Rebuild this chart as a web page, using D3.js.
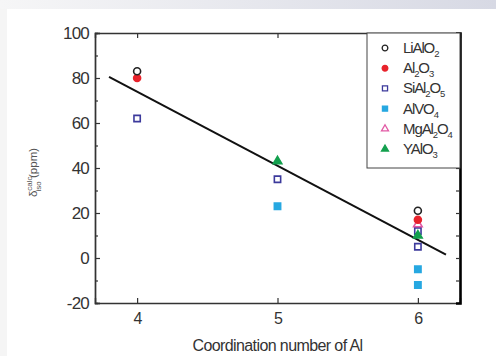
<!DOCTYPE html>
<html>
<head>
<meta charset="utf-8">
<script src="https://cdn.jsdelivr.net/npm/d3@7"></script>
<style>
  body { margin: 0; background: #fff; }
  svg { display: block; font-family: "Liberation Sans", Arial, sans-serif; }
</style>
</head>
<body>
<svg id="chart" width="496" height="356"></svg>
<script>
var width = 496,
    height = 356;

// data
var series = ["LiAlO2", "Al2O3", "SiAl2O5", "AlVO4", "MgAl2O4", "YAlO3"];
var liAlO2 = [[4, 83], [6, 21]];
var al2O3 = [[4, 80], [6, 17]];
var siAl2O5 = [[4, 62], [5, 35], [6, 12], [6, 5]];
var alVO4 = [[5, 23], [6, -5], [6, -12]];
var mgAl2O4 = [[6, 15]];
var yAlO3 = [[5, 43], [6, 10]];
var fitX = [3.8, 6.2];
var fitY = [80.5, 1.5];
var xTicks = [4, 5, 6];
var yTicks = [-20, 0, 20, 40, 60, 80, 100];

var margin = { left: 95, right: 36, top: 33, bottom: 53 };

var svg = d3.select("#chart");

// grey frame like the scanned figure
var grad = svg.append("defs").append("linearGradient").attr("id", "topband");
grad.append("stop").attr("offset", "0%").attr("stop-color", "#f6f6f7");
grad.append("stop").attr("offset", "100%").attr("stop-color", "#d7d9e4");
svg.append("rect").attr("width", width).attr("height", 9).attr("fill", "url(#topband)");
svg.append("rect").attr("y", 9).attr("width", 7).attr("height", height - 9).attr("fill", "#f5f5f5");

var x = d3.scaleLinear().domain([3.7, 6.3]).range([margin.left, width - margin.right]);
var y = d3.scaleLinear().domain([-20, 100]).range([height - margin.bottom, margin.top]);

var axisColor = "#333";
var plain = function (d) { return String(d); };

// axes, ticks inward
var gx = svg.append("g").attr("transform", "translate(0," + y(-20) + ")")
    .call(d3.axisBottom(x).tickValues(xTicks).tickSize(-5).tickPadding(10).tickFormat(plain));
var gxTop = svg.append("g").attr("transform", "translate(0," + y(100) + ")")
    .call(d3.axisTop(x).tickValues(xTicks).tickSize(-5).tickFormat(""));
var gy = svg.append("g").attr("transform", "translate(" + x(3.7) + ",0)")
    .call(d3.axisLeft(y).tickValues(yTicks).tickSize(-5).tickPadding(6).tickFormat(plain));
var gyMinor = svg.append("g").attr("transform", "translate(" + x(3.7) + ",0)")
    .call(d3.axisLeft(y).tickValues(d3.range(-10, 100, 20)).tickSize(-3).tickFormat(""));
var gyRight = svg.append("g").attr("transform", "translate(" + x(6.3) + ",0)")
    .call(d3.axisRight(y).tickValues(d3.range(-10, 100, 10)).tickSize(-4).tickFormat(""));

[gx, gxTop, gy, gyMinor, gyRight].forEach(function (g) {
    g.select(".domain").attr("stroke", axisColor).attr("stroke-width", 1.4);
    g.selectAll(".tick line").attr("stroke", axisColor).attr("stroke-width", 1.2);
    g.selectAll(".tick text").attr("fill", "#333").attr("font-size", 17)
        .attr("font-family", "Liberation Sans, Arial, sans-serif").attr("letter-spacing", -0.8);
});
gyRight.select(".domain").attr("stroke", "#000").attr("stroke-width", 2.6);
gx.selectAll(".tick text").attr("font-size", 16);

// axis titles
svg.append("text")
    .attr("x", x(5)).attr("y", 351)
    .attr("text-anchor", "middle")
    .attr("font-size", 16).attr("letter-spacing", -0.6).attr("fill", "#333")
    .text("Coordination number of Al");

var ylab = svg.append("text")
    .attr("transform", "translate(37," + y(38) + ") rotate(-90)")
    .attr("text-anchor", "middle")
    .attr("font-size", 11.5).attr("fill", "#555");
ylab.append("tspan").text("δ");
ylab.append("tspan").attr("font-size", 8).attr("dy", -5).text("calc");
ylab.append("tspan").attr("font-size", 8).attr("dx", -15).attr("dy", 9).text("iso");
ylab.append("tspan").attr("dy", -4).text(" (ppm)");

// fit line
svg.append("line")
    .attr("x1", x(fitX[0])).attr("y1", y(fitY[0]))
    .attr("x2", x(fitX[1])).attr("y2", y(fitY[1]))
    .attr("stroke", "#111").attr("stroke-width", 2);

var styles = {
    LiAlO2: { data: liAlO2, shape: "circle", fill: "none", stroke: "#222" },
    Al2O3: { data: al2O3, shape: "circle", fill: "#e8232c", stroke: "#e8232c" },
    SiAl2O5: { data: siAl2O5, shape: "square", fill: "none", stroke: "#3c3a9c" },
    AlVO4: { data: alVO4, shape: "square", fill: "#27a8e1", stroke: "#27a8e1" },
    MgAl2O4: { data: mgAl2O4, shape: "triangle", fill: "none", stroke: "#e25aa5" },
    YAlO3: { data: yAlO3, shape: "triangle", fill: "#13a04e", stroke: "#13a04e" }
};

function symbolPath(shape, s) {
    if (shape == "circle") return d3.symbol(d3.symbolCircle, s * s * 0.6)();
    if (shape == "square") return d3.symbol(d3.symbolSquare, s * s * 0.62)();
    return d3.symbol(d3.symbolTriangle, s * s * 0.5)();
}

var order = ["AlVO4", "SiAl2O5", "YAlO3", "MgAl2O4", "Al2O3", "LiAlO2"];
order.forEach(function (name) {
    var st = styles[name];
    svg.append("g").selectAll("path")
        .data(st.data)
        .join("path")
        .attr("transform", function (d) { return "translate(" + x(d[0]) + "," + y(d[1]) + ")"; })
        .attr("d", symbolPath(st.shape, 8))
        .attr("fill", st.fill == "none" ? "#fff" : st.fill)
        .attr("stroke", st.stroke)
        .attr("stroke-width", 1.6);
});

// legend
var lg = svg.append("g");
lg.append("rect")
    .attr("x", 367).attr("y", y(100))
    .attr("width", x(6.3) - 367).attr("height", 135)
    .attr("fill", "#fff").attr("stroke", "#444").attr("stroke-width", 1);

var labels = {
    LiAlO2: [["LiAlO", 0], ["2", 1]],
    Al2O3: [["Al", 0], ["2", 1], ["O", 0], ["3", 1]],
    SiAl2O5: [["SiAl", 0], ["2", 1], ["O", 0], ["5", 1]],
    AlVO4: [["AlVO", 0], ["4", 1]],
    MgAl2O4: [["MgAl", 0], ["2", 1], ["O", 0], ["4", 1]],
    YAlO3: [["YAlO", 0], ["3", 1]]
};

series.forEach(function (name, i) {
    var st = styles[name];
    var yy = 48 + i * 20.2;
    lg.append("path")
        .attr("transform", "translate(385," + yy + ")")
        .attr("d", symbolPath(st.shape, 6.5))
        .attr("fill", st.fill == "none" ? "#fff" : st.fill)
        .attr("stroke", st.stroke)
        .attr("stroke-width", 1.3);
    var t = lg.append("text")
        .attr("x", 403).attr("y", yy + 5)
        .attr("font-size", 15).attr("letter-spacing", -1.1).attr("fill", "#333");
    var sub = false;
    labels[name].forEach(function (p) {
        var ts = t.append("tspan").text(p[0]);
        if (p[1] && !sub) { ts.attr("font-size", 9.5).attr("dy", 4); sub = true; }
        else if (!p[1] && sub) { ts.attr("dy", -4); sub = false; }
        else if (p[1]) ts.attr("font-size", 9.5);
    });
});
</script>
</body>
</html>
